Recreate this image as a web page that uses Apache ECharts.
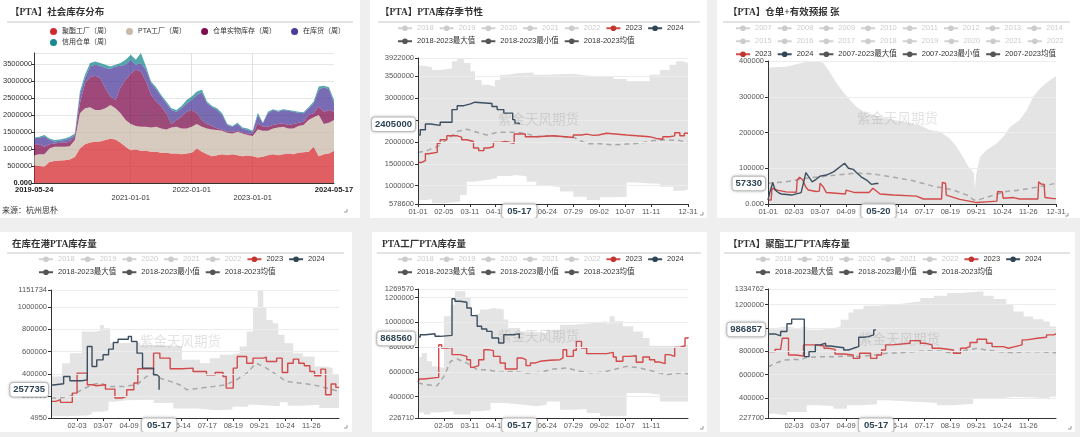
<!DOCTYPE html>
<html><head><meta charset="utf-8">
<script src="https://cdn.jsdelivr.net/npm/echarts@6/dist/echarts.min.js"></script>
<style>
html,body{margin:0;padding:0;background:#efefef;width:1080px;height:437px;overflow:hidden;}
.p{position:absolute;background:#fff;}
</style></head><body>
<div id="c1" class="p" style="left:0;top:0;width:360px;height:218px"></div>
<div id="c2" class="p" style="left:370px;top:0;width:337px;height:218px"></div>
<div id="c3" class="p" style="left:717px;top:0;width:363px;height:218px"></div>
<div id="c4" class="p" style="left:0;top:232px;width:352px;height:200px"></div>
<div id="c5" class="p" style="left:372px;top:232px;width:335px;height:200px"></div>
<div id="c6" class="p" style="left:720px;top:232px;width:355px;height:200px"></div>
<script>
// ---------- Panel 1 data (monthly samples) ----------
const dates1 = ['2019-05-24','2019-07-01','2019-08-01','2019-09-01','2019-10-01','2019-11-01','2019-12-01',
'2020-01-01','2020-02-01','2020-03-01','2020-04-01','2020-05-01','2020-06-01','2020-07-01','2020-08-01','2020-09-01','2020-10-01','2020-11-01','2020-12-01',
'2021-01-01','2021-02-01','2021-03-01','2021-04-01','2021-05-01','2021-06-01','2021-07-01','2021-08-01','2021-09-01','2021-10-01','2021-11-01','2021-12-01',
'2022-01-01','2022-02-01','2022-03-01','2022-04-01','2022-05-01','2022-06-01','2022-07-01','2022-08-01','2022-09-01','2022-10-01','2022-11-01','2022-12-01',
'2023-01-01','2023-02-01','2023-03-01','2023-04-01','2023-05-01','2023-06-01','2023-07-01','2023-08-01','2023-09-01','2023-10-01','2023-11-01','2023-12-01',
'2024-01-01','2024-02-01','2024-03-01','2024-04-01','2024-05-17'];
const names1 = ['聚酯工厂（周）','PTA工厂（周）','仓单实物库存（周）','在库货（周）','信用仓单（周）'];
const polyester1 = [524000,504000,490000,620000,652000,662000,672000,692000,770000,1018000,1146000,1196000,1215000,1225000,1265000,1304000,1285000,1186000,1067000,968000,988000,949000,949000,919000,919000,889000,889000,870000,870000,850000,870000,889000,1018000,919000,850000,790000,820000,850000,820000,850000,820000,790000,810000,790000,751000,771000,820000,850000,820000,850000,870000,850000,889000,909000,919000,1067000,790000,850000,870000,949000];
const ptaPlant1 = [296000,346000,360000,398000,415000,405000,395000,395000,495000,1037000,1057000,1037000,939000,929000,938000,998000,918000,869000,791000,771000,692000,711000,711000,721000,741000,722000,692000,770000,790000,761000,741000,771000,721000,741000,761000,791000,741000,691000,662000,612000,692000,672000,603000,593000,830000,770000,721000,761000,820000,810000,741000,761000,791000,800000,939000,870000,1216000,889000,908000,909000];
const warrantPhys1 = [326000,296000,217000,128000,99000,119000,119000,128000,99000,297000,742000,889000,1008000,939000,593000,247000,247000,771000,1185000,1482000,1660000,1630000,1334000,959000,741000,642000,474000,99000,198000,345000,494000,494000,316000,198000,128000,99000,50000,40000,30000,50000,29000,20000,49000,60000,178000,119000,119000,98000,99000,99000,98000,128000,98000,99000,148000,118000,247000,366000,376000,247000];
const inStock1 = [168000,198000,297000,139000,49000,59000,79000,99000,49000,247000,148000,317000,326000,365000,593000,810000,989000,632000,445000,415000,148000,247000,346000,346000,366000,296000,297000,415000,247000,247000,247000,296000,544000,810000,613000,553000,543000,425000,197000,148000,198000,129000,99000,69000,247000,99000,395000,445000,366000,395000,425000,366000,297000,247000,197000,297000,494000,721000,613000,247000];
const creditWarrant1 = [30000,20000,49000,29000,50000,40000,49000,50000,49000,98000,99000,98000,99000,79000,99000,80000,49000,79000,148000,148000,148000,297000,99000,49000,59000,50000,49000,49000,49000,70000,98000,99000,98000,79000,49000,40000,49000,49000,30000,20000,39000,29000,50000,29000,69000,19000,50000,20000,29000,20000,20000,29000,30000,30000,30000,49000,99000,40000,59000,98000];
const p1LabelIdx = [0,19,31,43,59];

// ---------- Seasonal charts: day categories (leap-year calendar) ----------
const monthLen = [31,29,31,30,31,30,31,31,30,31,30,31];
const days = [];
monthLen.forEach((n,m)=>{for(let d=1;d<=n;d++) days.push(String(m+1).padStart(2,'0')+'-'+String(d).padStart(2,'0'));});
const years18 = ['2018','2019','2020','2021','2022'];
const years07 = ['2007','2008','2009','2010','2011','2012','2013','2014','2015','2016','2017','2018','2019','2020','2021','2022'];

// Panel 2: PTA库存季节性 ([dayIndex, value])
const s2_2024 = [[0,2160000],[3,2280000],[10,2410000],[17,2380000],[30,2450000],[46,2740000],[53,2830000],[62,2870000],[71,2910000],[77,2880000],[100,2810000],[107,2740000],[116,2660000],[128,2510000],[131,2430000],[137,2405000]];
const s2_2023 = [[0,1530000],[5,1570000],[10,1730000],[14,1760000],[26,1970000],[30,2050000],[39,2140000],[53,2110000],[59,2050000],[66,2010000],[75,1860000],[82,1800000],[89,1860000],[95,1890000],[102,1990000],[111,2010000],[118,1970000],[130,2180000],[145,2120000],[160,2140000],[183,2120000],[199,2100000],[210,2160000],[221,2180000],[228,2150000],[237,2160000],[244,2200000],[255,2160000],[282,2120000],[313,2080000],[322,2060000],[331,2120000],[340,2140000],[347,2210000],[354,2140000],[360,2200000],[365,2200000]];
const s2_avg = [[0,1760000],[12,1800000],[26,1890000],[39,2050000],[53,2240000],[66,2290000],[80,2220000],[93,2160000],[107,2220000],[120,2220000],[133,2220000],[147,2190000],[160,2120000],[174,2140000],[192,2120000],[210,2110000],[228,1960000],[246,1960000],[264,1930000],[282,1950000],[300,1970000],[318,2030000],[336,2050000],[354,2030000],[365,1990000]];
const s2_max = [[0,3750000],[5,3710000],[19,3650000],[30,3690000],[46,3850000],[53,3900000],[62,3810000],[71,3620000],[77,3420000],[86,3310000],[95,3270000],[104,3420000],[111,3540000],[120,3580000],[138,3590000],[156,3540000],[174,3560000],[210,3520000],[228,3500000],[246,3490000],[264,3440000],[282,3390000],[313,3540000],[327,3650000],[340,3770000],[349,3850000],[358,3810000],[365,3810000]];
const s2_min = [[0,670000],[12,686000],[19,594000],[35,632000],[57,785000],[66,1090000],[75,1130000],[93,1170000],[107,1220000],[124,1240000],[133,1210000],[147,1090000],[160,991000],[178,960000],[192,862000],[210,747000],[228,670000],[246,732000],[259,747000],[282,1070000],[295,1050000],[313,1040000],[327,976000],[345,884000],[360,915000],[365,915000]];

// Panel 3: 仓单+有效预报
const s3_2024 = [[0,11000],[2,30000],[6,60000],[9,39000],[13,32000],[17,28000],[30,25000],[42,32000],[48,88000],[56,62000],[61,69000],[66,78000],[74,81000],[83,90000],[97,114000],[102,100000],[108,97000],[112,88000],[118,76000],[125,67000],[131,55000],[137,57330],[140,57330]];
const s3_2023 = [[0,11000],[4,11000],[5,44000],[13,38000],[23,34000],[36,33000],[37,67000],[40,75000],[44,67000],[48,47000],[51,39000],[61,35000],[65,36000],[66,58000],[68,62000],[70,48000],[74,32000],[76,28000],[98,28000],[99,39000],[110,32000],[128,32000],[133,44000],[142,28000],[159,25000],[188,22000],[190,25000],[197,14000],[220,14000],[221,60000],[225,58000],[226,25000],[230,22000],[243,13000],[260,6000],[264,4000],[277,6000],[290,8000],[291,35000],[297,34000],[298,16000],[311,18000],[319,14000],[342,14000],[343,62000],[346,56000],[350,55000],[351,18000],[362,15000],[365,15000]];
const s3_avg = [[0,58000],[23,62000],[49,72000],[74,78000],[99,84000],[116,86000],[133,84000],[159,75000],[184,65000],[209,50000],[235,39000],[252,25000],[261,11000],[269,13000],[286,25000],[302,35000],[319,39000],[341,47000],[365,58000]];
const s3_max = [[0,358000],[2,382000],[23,384000],[36,391000],[49,398000],[61,401000],[70,395000],[78,370000],[87,338000],[95,314000],[104,291000],[112,272000],[121,258000],[133,249000],[150,240000],[171,230000],[192,221000],[205,207000],[218,202000],[230,184000],[239,160000],[247,132000],[254,104000],[258,95000],[261,86000],[262,41000],[264,86000],[269,132000],[277,151000],[290,170000],[298,188000],[307,216000],[319,235000],[328,263000],[336,300000],[345,324000],[353,339000],[365,358000]];
const s3_min = [[0,0],[365,0]];

// Panel 4: 在库在港PTA库存量
const s4_2024 = [[0,300000],[3,312000],[16,377000],[24,339000],[39,347000],[46,645000],[52,467000],[58,526000],[66,571000],[73,622000],[79,681000],[85,711000],[98,735000],[102,690000],[109,586000],[116,452000],[130,392000],[134,377000],[137,257735]];
const s4_2023 = [[0,154000],[6,169000],[12,145000],[27,228000],[33,407000],[46,303000],[52,294000],[58,303000],[69,264000],[81,184000],[90,199000],[96,258000],[105,318000],[110,446000],[130,586000],[138,541000],[151,446000],[166,452000],[180,422000],[197,392000],[208,413000],[218,377000],[222,273000],[231,452000],[236,556000],[248,496000],[256,541000],[269,550000],[273,511000],[286,541000],[293,413000],[300,496000],[307,532000],[314,496000],[321,473000],[328,422000],[334,383000],[342,443000],[348,213000],[355,309000],[361,279000],[365,279000]];
const s4_avg = [[0,184000],[12,184000],[24,199000],[39,258000],[52,303000],[62,318000],[75,288000],[92,288000],[109,303000],[121,377000],[130,401000],[138,362000],[151,333000],[163,303000],[172,258000],[189,273000],[206,288000],[222,303000],[235,347000],[248,407000],[260,496000],[273,452000],[286,392000],[298,333000],[315,318000],[332,303000],[349,273000],[365,243000]];
const s4_max = [[0,377000],[14,496000],[24,586000],[39,779000],[58,790000],[62,839000],[67,809000],[75,675000],[81,681000],[113,660000],[130,650000],[166,526000],[189,496000],[201,541000],[214,571000],[227,586000],[239,645000],[248,779000],[256,997000],[262,1146000],[269,997000],[273,884000],[281,854000],[288,750000],[296,675000],[307,586000],[319,556000],[334,467000],[347,452000],[357,392000],[365,392000]];
const s4_min = [[0,20000],[20,28000],[46,40000],[52,60000],[66,75000],[73,150000],[80,165000],[95,169000],[130,139000],[155,90000],[185,75000],[210,80000],[230,105000],[250,124000],[260,110000],[290,145000],[300,115000],[315,124000],[340,95000],[365,95000]];

// Panel 5: PTA工厂PTA库存量
const s5_2024 = [[0,881000],[3,900000],[10,908000],[23,887000],[30,895000],[46,1191000],[50,1170000],[57,1162000],[66,1116000],[72,1054000],[80,968000],[86,946000],[93,927000],[100,873000],[109,833000],[116,900000],[130,905000],[134,908000],[137,868560]];
const s5_2023 = [[0,518000],[2,542000],[8,555000],[28,819000],[32,792000],[40,798000],[46,739000],[57,725000],[66,698000],[71,636000],[75,650000],[82,698000],[89,779000],[95,771000],[102,725000],[111,671000],[118,623000],[134,712000],[140,698000],[146,650000],[152,671000],[158,685000],[165,693000],[178,698000],[192,712000],[196,779000],[201,725000],[210,774000],[214,846000],[221,792000],[228,747000],[255,757000],[264,720000],[268,685000],[277,725000],[286,730000],[295,677000],[304,720000],[313,698000],[320,679000],[327,666000],[334,739000],[340,725000],[347,798000],[354,811000],[361,873000],[365,881000]];
const s5_avg = [[0,510000],[12,496000],[26,488000],[35,563000],[44,685000],[53,704000],[66,671000],[80,617000],[93,617000],[111,596000],[129,604000],[147,590000],[165,596000],[183,623000],[201,631000],[219,604000],[237,590000],[255,604000],[273,631000],[282,644000],[300,631000],[318,604000],[336,577000],[354,590000],[365,585000]];
const s5_max = [[0,720000],[5,752000],[12,685000],[19,644000],[26,630000],[35,1049000],[44,1143000],[50,1251000],[64,1205000],[71,1062000],[77,1076000],[84,1103000],[93,1116000],[102,1103000],[116,1022000],[122,954000],[138,927000],[152,914000],[174,941000],[192,981000],[210,995000],[237,1008000],[255,990000],[259,1049000],[266,1008000],[277,968000],[291,927000],[304,873000],[313,811000],[349,819000],[365,819000]];
const s5_min = [[0,272000],[8,254000],[17,272000],[30,281000],[48,254000],[71,281000],[84,289000],[98,348000],[116,334000],[143,321000],[161,334000],[174,361000],[192,294000],[210,299000],[228,267000],[246,240000],[282,429000],[309,415000],[327,361000],[365,361000]];

// Panel 6: 聚酯工厂PTA库存量
const s6_2024 = [[0,949000],[9,932000],[16,970000],[24,1036000],[30,1076000],[46,754000],[52,797000],[60,855000],[66,869000],[73,846000],[79,831000],[96,811000],[102,826000],[108,840000],[115,921000],[121,926000],[127,941000],[134,984000],[137,986857]];
const s6_2023 = [[0,797000],[9,817000],[16,830000],[18,912000],[26,768000],[35,760000],[45,855000],[60,846000],[71,826000],[77,817000],[85,777000],[96,768000],[108,739000],[116,783000],[130,739000],[138,768000],[144,811000],[149,855000],[157,869000],[180,892000],[193,869000],[199,855000],[208,826000],[218,811000],[235,783000],[244,826000],[250,840000],[256,875000],[265,903000],[277,869000],[284,840000],[298,826000],[305,840000],[313,855000],[322,898000],[328,912000],[341,921000],[353,941000],[362,949000],[365,949000]];
const s6_avg = [[0,668000],[9,696000],[20,725000],[33,731000],[41,725000],[49,748000],[66,754000],[83,754000],[100,760000],[117,754000],[134,768000],[151,783000],[168,788000],[184,797000],[201,805000],[218,802000],[235,783000],[252,811000],[265,826000],[277,811000],[294,797000],[311,788000],[328,797000],[345,797000],[365,788000]];
const s6_max = [[0,998000],[9,1013000],[24,998000],[37,1013000],[49,984000],[66,998000],[83,1013000],[92,1070000],[102,1133000],[108,1162000],[121,1191000],[138,1200000],[159,1214000],[176,1228000],[193,1257000],[210,1277000],[227,1300000],[244,1315000],[273,1277000],[286,1248000],[302,1200000],[311,1142000],[324,1099000],[336,1076000],[349,1056000],[357,1013000],[365,1013000]];
const s6_min = [[0,265000],[9,251000],[24,279000],[49,337000],[66,328000],[83,308000],[100,337000],[117,346000],[138,380000],[151,366000],[193,357000],[214,337000],[235,351000],[260,395000],[294,409000],[311,403000],[341,386000],[357,409000],[365,409000]];

// ---------- shared helpers ----------
const FONT = '"Liberation Sans","Noto Sans CJK SC",sans-serif';
const TFONT = '"Liberation Serif","Noto Sans CJK SC",serif';
function deco(w, titleLine, wm, handle) {
  return [
    {type:'line', shape:{x1:titleLine[0], y1:titleLine[2], x2:titleLine[1], y2:titleLine[2]}, style:{stroke:'#c8c8c8', lineWidth:1}, silent:true},
    {type:'text', x:wm[0], y:wm[1], z:100, silent:true, style:{text:'紫金天风期货', fontSize:13.5, fontFamily:FONT, fill:'rgba(110,110,110,0.2)', verticalAlign:'middle'}},
    {type:'polyline', shape:{points:[[handle[0]-3,handle[1]],[handle[0],handle[1]],[handle[0],handle[1]-3]]}, style:{stroke:'#999', lineWidth:1, fill:null}, silent:true}
  ];
}

// ---------- Panel 1 ----------
(function(){
  const ch = echarts.init(document.getElementById('c1'));
  const colors = ['#d42a2f','#c9b9a9','#7e0c4e','#4c3b9c','#178a8f'];
  const vals = [polyester1, ptaPlant1, warrantPhys1, inStock1, creditWarrant1];
  const legendBase = {left:50, padding:0, icon:'circle', itemWidth:7, itemHeight:7, itemGap:15, textStyle:{fontSize:7, color:'#333'}};
  ch.setOption({
    animation:false,
    textStyle:{fontFamily:FONT},
    title:{text:'【PTA】社会库存分布', left:10, top:8, padding:0, textStyle:{fontSize:9.5, fontWeight:'bold', fontFamily:TFONT, color:'#333'}},
    legend:[Object.assign({top:28, data:names1.slice(0,4)}, legendBase), Object.assign({top:39, data:names1.slice(4)}, legendBase)],
    grid:{left:33, right:26, top:53, bottom:35},
    xAxis:{type:'category', data:dates1, boundaryGap:false,
      axisLine:{lineStyle:{color:'#333'}}, axisTick:{show:false},
      axisLabel:{interval:(i)=>p1LabelIdx.includes(i), fontSize:7.5, color:'#333', margin:3, lineHeight:8,
        formatter:(v,i)=> (i===0||i===dates1.length-1) ? '{b|'+v+'}' : ((i===19||i===43) ? '\n'+v : v),
        rich:{b:{fontWeight:'bold', fontSize:7.5, color:'#222', lineHeight:8}}},
      splitLine:{show:true, interval:(i)=> i===19||i===31||i===43, lineStyle:{color:'#e0e0e0'}}},
    yAxis:{type:'value', min:0, max:'dataMax', interval:500000,
      axisLine:{show:true, lineStyle:{color:'#333'}}, axisTick:{show:true, length:3},
      axisLabel:{fontSize:7.5, color:'#333', margin:2, showMaxLabel:false,
        formatter:(v)=> v===0 ? '{b|0.000}' : String(v), rich:{b:{fontWeight:'bold', fontSize:7.5, color:'#222'}}},
      splitLine:{lineStyle:{color:'#e6e6e6'}}},
    series: names1.map((n,k)=>({name:n, type:'line', stack:'total', data:vals[k], color:colors[k],
      symbol:'circle', showSymbol:false, lineStyle:{width:0}, areaStyle:{opacity:0.75}, silent:true})),
    graphic: deco(360, [7,353,22], [140,119], [347,212]).concat([
      {type:'text', x:2, y:211, style:{text:'来源：杭州思朴', fontSize:8, fontFamily:FONT, fill:'#333', verticalAlign:'middle'}}])
  });
})();

// ---------- Seasonal builder ----------
function seasonal(id, c) {
  const ch = echarts.init(document.getElementById(id));
  const bandNames = [c.maxName, c.minName, c.avgName];
  const st = c.step ? 'end' : false;
  const series = [];
  c.years.forEach(y => series.push({name:y, type:'line', data:[], symbol:'circle', showSymbol:false}));
  const band = (name, data, fill) => ({name, type:'line', data, step:st, symbol:'circle', showSymbol:false, color:'#555',
    lineStyle:{width:0, opacity:0}, areaStyle:{color:fill, opacity:1, origin:'start'}, silent:true, z:1});
  series.push(band(c.maxName, c.max, '#e4e4e4'));
  series.push(band(c.minName, c.min, '#ffffff'));
  series.push({name:c.avgName, type:'line', data:c.avg, symbol:'circle', showSymbol:false, color:'#555',
    lineStyle:{color:'#a8a8a8', width:1.5, type:[5,4]}, silent:true, z:3});
  series.push({name:'2023', type:'line', data:c.y23, step:st, symbol:'circle', showSymbol:false, color:'#c23531',
    lineStyle:{color:'#d24a4a', width:1.4}, silent:true, z:4});
  series.push({name:'2024', type:'line', data:c.y24, step:st, symbol:'circle', showSymbol:false, color:'#2f4554',
    lineStyle:{color:'#3c4e60', width:1.4}, silent:true, z:5});
  const selected = {}; c.years.forEach(y => selected[y] = false);
  const legends = c.rows.map((row,i)=>({left:c.legendLeft, top:c.legendTops[i], padding:0, itemWidth:14, itemHeight:7, itemGap:5,
    textStyle:{fontSize:7.5, color:'#333'}, inactiveColor:'#ccc', selected,
    data: row.map(n => bandNames.includes(n) ? {name:n, itemStyle:{color:'#555'}, lineStyle:{color:'#555', width:2, opacity:1, type:'solid'}} : n)}));
  const ptrLabel = {show:true, backgroundColor:'#fff', color:'#2f4554', fontWeight:'bold', fontSize:9.5, fontFamily:FONT,
    borderColor:'#ccc', borderWidth:1, shadowBlur:3, shadowColor:'rgba(0,0,0,0.25)'};
  ch.setOption({
    animation:false,
    textStyle:{fontFamily:FONT},
    title:{text:c.title, left:c.titleLeft, top:c.titleTop, padding:0, textStyle:{fontSize:9.5, fontWeight:'bold', fontFamily:TFONT, color:'#333'}},
    legend:legends,
    grid:c.grid,
    xAxis:{type:'category', data:days, boundaryGap:false, z:5,
      axisLine:{lineStyle:{color:'#333'}}, axisTick:{interval:(i)=>c.xShow(i), length:3},
      axisLabel:{interval:(i)=>c.xShow(i), fontSize:7.5, color:'#555', margin:4},
      splitLine:{show:false},
      axisPointer:{show:true, status:'show', value:c.ptrX, type:'none', triggerTooltip:false,
        label:Object.assign({padding:[2,5], margin:2}, ptrLabel)}},
    yAxis:{type:'value', min:c.yMin, max:c.yMax, z:5,
      axisLine:{show:true, lineStyle:{color:'#333'}}, axisTick:{show:true, length:3},
      axisLabel:{fontSize:7.5, color:'#555', margin:4, formatter:c.yFmt || ((v)=>String(v))},
      splitLine:{lineStyle:{color:'#ececec'}},
      axisPointer:{show:true, status:'show', value:c.ptrY, type:'none', triggerTooltip:false,
        label:Object.assign({padding:[2,3], margin:3, formatter:(p)=>String(p.value)}, ptrLabel)}},
    series,
    graphic: deco(0, c.line, c.wm, c.handle)
  });
}

const row2_18 = ['2018-2023最大值','2018-2023最小值','2018-2023均值'];
const show35 = (i)=> (i%35===0 && i<=315) || i===365;
const show33 = (i)=> (i%33===0 && i<=330) || i===365;
const show33in = (i)=> i%33===0 && i>=33 && i<=330;
const show35in = (i)=> i%35===0 && i>=35 && i<=315;

seasonal('c2', {title:'【PTA】PTA库存季节性', titleLeft:10, titleTop:8, line:[8,330,22],
  years:years18, rows:[years18.concat(['2023','2024']), row2_18], legendLeft:27, legendTops:[24.5,37.5],
  maxName:row2_18[0], minName:row2_18[1], avgName:row2_18[2], step:true,
  max:s2_max, min:s2_min, avg:s2_avg, y23:s2_2023, y24:s2_2024,
  grid:{left:48, right:19, top:58, bottom:14}, yMin:578600, yMax:3922000, xShow:show35, ptrX:137, ptrY:2405000,
  wm:[128,120], handle:[333,215]});

seasonal('c3', {title:'【PTA】仓单+有效预报 张', titleLeft:11, titleTop:8, line:[6,353,22],
  years:years07, rows:[years07.slice(0,8), years07.slice(8), ['2023','2024','2007-2023最大值','2007-2023最小值','2007-2023均值']],
  legendLeft:18, legendTops:[24.5,37.5,50.5],
  maxName:'2007-2023最大值', minName:'2007-2023最小值', avgName:'2007-2023均值', step:false,
  max:s3_max, min:s3_min, avg:s3_avg, y23:s3_2023, y24:s3_2024,
  grid:{left:51, right:24, top:61, bottom:14}, yMin:0, yMax:400000, xShow:show33, ptrX:140, ptrY:57330,
  yFmt:(v)=> v===0 ? '0.000' : String(v), wm:[140,119], handle:[351,216]});

seasonal('c4', {title:'在库在港PTA库存量', titleLeft:12, titleTop:8, line:[7,344,21],
  years:years18, rows:[years18.concat(['2023','2024']), row2_18], legendLeft:38, legendTops:[23.5,36.5],
  maxName:row2_18[0], minName:row2_18[1], avgName:row2_18[2], step:true,
  max:s4_max, min:s4_min, avg:s4_avg, y23:s4_2023, y24:s4_2024,
  grid:{left:51, right:13, top:58, bottom:14}, yMin:4950, yMax:1151734, xShow:show33in, ptrX:137, ptrY:257735,
  wm:[140,110], handle:[347,196]});

seasonal('c5', {title:'PTA工厂PTA库存量', titleLeft:10, titleTop:8, line:[5,329,21],
  years:years18, rows:[years18.concat(['2023','2024']), row2_18], legendLeft:25, legendTops:[23.5,36.5],
  maxName:row2_18[0], minName:row2_18[1], avgName:row2_18[2], step:true,
  max:s5_max, min:s5_min, avg:s5_avg, y23:s5_2023, y24:s5_2024,
  grid:{left:46, right:19, top:57, bottom:14}, yMin:226710, yMax:1269570, xShow:show35in, ptrX:137, ptrY:868560,
  wm:[126,105], handle:[331,197]});

seasonal('c6', {title:'【PTA】聚酯工厂PTA库存量', titleLeft:8, titleTop:8, line:[4,350,21],
  years:years18, rows:[years18.concat(['2023','2024']), row2_18], legendLeft:35, legendTops:[23.5,36.5],
  maxName:row2_18[0], minName:row2_18[1], avgName:row2_18[2], step:true,
  max:s6_max, min:s6_min, avg:s6_avg, y23:s6_2023, y24:s6_2024,
  grid:{left:48, right:19, top:57, bottom:14}, yMin:227700, yMax:1334762, xShow:show33in, ptrX:137, ptrY:986857,
  wm:[139,108], handle:[351,197]});
</script>
</body></html>
